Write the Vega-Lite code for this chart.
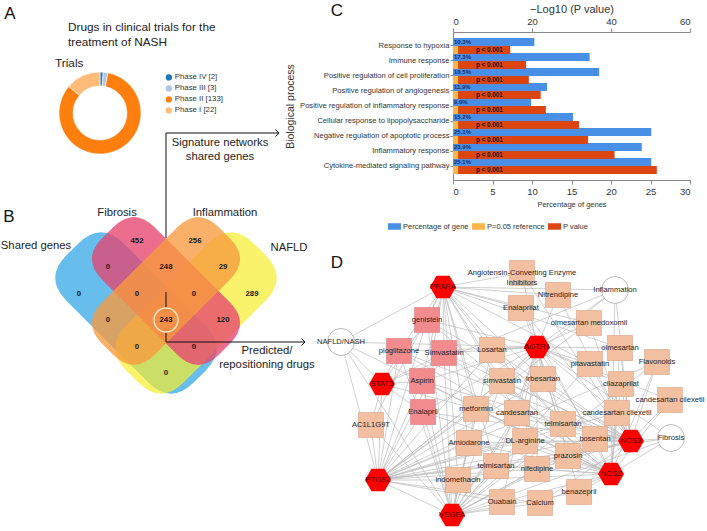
{
  "$schema": "https://vega.github.io/schema/vega-lite/v6.json",
  "width": 707,
  "height": 531,
  "autosize": {"type": "none"},
  "padding": 0,
  "background": "white",
  "config": {"view": {"stroke": null}, "font": "Liberation Sans"},
  "datasets": {
    "phases": [
      {"label": "Phase IV [2]", "n": 2, "ord": 1},
      {"label": "Phase III [3]", "n": 3, "ord": 2},
      {"label": "Phase II [133]", "n": 133, "ord": 3},
      {"label": "Phase I [22]", "n": 22, "ord": 4}
    ],
    "go": [
      {"process": "Response to hypoxia", "pct": 10.3, "pval": 14.5, "pct_label": "10.3%", "p_label": "p < 0.001"},
      {"process": "Immune response", "pct": 17.3, "pval": 18.5, "pct_label": "17.3%", "p_label": "p < 0.001"},
      {"process": "Positive regulation of cell proliferation", "pct": 18.5, "pval": 19.2, "pct_label": "18.5%", "p_label": "p < 0.001"},
      {"process": "Positive regulation of angiogenesis", "pct": 11.9, "pval": 22.2, "pct_label": "11.9%", "p_label": "p < 0.001"},
      {"process": "Positive regulation of inflammatory response", "pct": 9.9, "pval": 23.5, "pct_label": "9.9%", "p_label": "p < 0.001"},
      {"process": "Cellular response to lipopolysaccharide", "pct": 15.2, "pval": 31.9, "pct_label": "15.2%", "p_label": "p < 0.001"},
      {"process": "Negative regulation of apoptotic process", "pct": 25.1, "pval": 34.2, "pct_label": "25.1%", "p_label": "p < 0.001"},
      {"process": "Inflammatory response", "pct": 23.9, "pval": 40.9, "pct_label": "23.9%", "p_label": "p < 0.001"},
      {"process": "Cytokine-mediated signaling pathway", "pct": 25.1, "pval": 51.6, "pct_label": "25.1%", "p_label": "p < 0.001"}
    ],
    "venn_sets": [
      {"set": "Shared genes", "x": 136, "y": 313},
      {"set": "Fibrosis", "x": 166, "y": 291},
      {"set": "Inflammation", "x": 166, "y": 291},
      {"set": "NAFLD", "x": 196, "y": 313}
    ],
    "venn_counts": [
      {"t": "452", "x": 137, "y": 241}, {"t": "256", "x": 195, "y": 241},
      {"t": "0", "x": 108, "y": 267}, {"t": "248", "x": 166, "y": 267}, {"t": "29", "x": 223, "y": 267},
      {"t": "0", "x": 79, "y": 294}, {"t": "0", "x": 137, "y": 294}, {"t": "0", "x": 194, "y": 294}, {"t": "289", "x": 252, "y": 294},
      {"t": "0", "x": 108, "y": 320}, {"t": "243", "x": 166, "y": 320}, {"t": "120", "x": 223, "y": 320},
      {"t": "0", "x": 137, "y": 347}, {"t": "0", "x": 194, "y": 347},
      {"t": "0", "x": 166, "y": 373}
    ],
    "notes": [
      {"t": "A", "x": 10, "y": 14, "role": "letter"},
      {"t": "B", "x": 9, "y": 217, "role": "letter"},
      {"t": "C", "x": 337, "y": 11, "role": "letter"},
      {"t": "D", "x": 337, "y": 263, "role": "letter"},
      {"t": "Drugs in clinical trials for the", "x": 68, "y": 27, "role": "left"},
      {"t": "treatment of NASH", "x": 68, "y": 42, "role": "left"},
      {"t": "Trials", "x": 55, "y": 63, "role": "left"},
      {"t": "Fibrosis", "x": 117, "y": 213, "role": "center"},
      {"t": "Inflammation", "x": 225, "y": 213, "role": "center"},
      {"t": "Shared genes", "x": 36, "y": 246, "role": "center"},
      {"t": "NAFLD", "x": 289, "y": 248, "role": "center"},
      {"t": "Signature networks", "x": 220, "y": 143, "role": "center"},
      {"t": "shared genes", "x": 220, "y": 157, "role": "center"},
      {"t": "Predicted/", "x": 267, "y": 351, "role": "center"},
      {"t": "repositioning drugs", "x": 267, "y": 365, "role": "center"}
    ],
    "arrows": [
      {"x1": 166, "y1": 133, "x2": 166, "y2": 238, "level": "under", "head": false},
      {"x1": 166, "y1": 133, "x2": 279, "y2": 133, "level": "under", "head": true},
      {"x1": 166, "y1": 292, "x2": 166, "y2": 308, "level": "over", "head": false},
      {"x1": 166, "y1": 332, "x2": 166, "y2": 342, "level": "over", "head": false},
      {"x1": 166, "y1": 342, "x2": 305, "y2": 342, "level": "over", "head": true}
    ],
    "nodes": [
      {"id": "PPARA", "label": "PPARA", "type": "gene", "x": 443, "y": 287},
      {"id": "AGTR1", "label": "AGTR1", "type": "gene", "x": 537, "y": 347},
      {"id": "STAT3", "label": "STAT3", "type": "gene", "x": 382, "y": 384},
      {"id": "PTGS2", "label": "PTGS2", "type": "gene", "x": 378, "y": 480},
      {"id": "VEGFA", "label": "VEGFA", "type": "gene", "x": 452, "y": 515},
      {"id": "NOS3", "label": "NOS3", "type": "gene", "x": 631, "y": 441},
      {"id": "NOS2", "label": "NOS2", "type": "gene", "x": 611, "y": 474},
      {"id": "NAFLD/NASH", "label": "NAFLD/NASH", "type": "disease", "x": 341, "y": 342},
      {"id": "Inflammation", "label": "Inflammation", "type": "disease", "x": 615, "y": 290},
      {"id": "Fibrosis", "label": "Fibrosis", "type": "disease", "x": 671, "y": 438},
      {"id": "genistein", "label": "genistein", "type": "pink", "x": 427, "y": 320},
      {"id": "pioglitazone", "label": "pioglitazone", "type": "pink", "x": 399, "y": 351},
      {"id": "Simvastatin", "label": "Simvastatin", "type": "pink", "x": 444, "y": 353},
      {"id": "Aspirin", "label": "Aspirin", "type": "pink", "x": 422, "y": 381},
      {"id": "Enalapril", "label": "Enalapril", "type": "pink", "x": 423, "y": 412},
      {"id": "AC1L1G9T", "label": "AC1L1G9T", "type": "drug", "x": 371, "y": 425},
      {"id": "ACE", "label": "Angiotensin-Converting Enzyme\nInhibitors", "type": "drug", "x": 522, "y": 273},
      {"id": "Enalaprilat", "label": "Enalaprilat", "type": "drug", "x": 521, "y": 308},
      {"id": "Nitrendipine", "label": "Nitrendipine", "type": "drug", "x": 558, "y": 295},
      {"id": "olmesartan medoxomil", "label": "olmesartan medoxomil", "type": "drug", "x": 589, "y": 323},
      {"id": "Losartan", "label": "Losartan", "type": "drug", "x": 492, "y": 350},
      {"id": "olmesartan", "label": "olmesartan", "type": "drug", "x": 620, "y": 348},
      {"id": "Flavonoids", "label": "Flavonoids", "type": "drug", "x": 657, "y": 362},
      {"id": "pitavastatin", "label": "pitavastatin", "type": "drug", "x": 590, "y": 364},
      {"id": "simvastatin", "label": "simvastatin", "type": "drug", "x": 502, "y": 381},
      {"id": "irbesartan", "label": "irbesartan", "type": "drug", "x": 543, "y": 379},
      {"id": "cilazaprilat", "label": "cilazaprilat", "type": "drug", "x": 621, "y": 384},
      {"id": "cc1", "label": "candesartan cilexetil", "type": "drug", "x": 670, "y": 400},
      {"id": "metformin", "label": "metformin", "type": "drug", "x": 476, "y": 409},
      {"id": "candesartan", "label": "candesartan", "type": "drug", "x": 517, "y": 413},
      {"id": "cc2", "label": "candesartan cilexetil", "type": "drug", "x": 617, "y": 413},
      {"id": "tel1", "label": "telmisartan", "type": "drug", "x": 563, "y": 424},
      {"id": "Amiodarone", "label": "Amiodarone", "type": "drug", "x": 469, "y": 443},
      {"id": "DL-arginine", "label": "DL-arginine", "type": "drug", "x": 525, "y": 441},
      {"id": "bosentan", "label": "bosentan", "type": "drug", "x": 595, "y": 439},
      {"id": "prazosin", "label": "prazosin", "type": "drug", "x": 568, "y": 456},
      {"id": "tel2", "label": "telmisartan", "type": "drug", "x": 496, "y": 466},
      {"id": "nifedipine", "label": "nifedipine", "type": "drug", "x": 537, "y": 469},
      {"id": "indomethacin", "label": "indomethacin", "type": "drug", "x": 458, "y": 480},
      {"id": "benazepril", "label": "benazepril", "type": "drug", "x": 579, "y": 492},
      {"id": "Ouabain", "label": "Ouabain", "type": "drug", "x": 502, "y": 502},
      {"id": "Calcium", "label": "Calcium", "type": "drug", "x": 540, "y": 503}
    ],
    "targets": [
      {"src": "NAFLD/NASH", "tgts": ["PPARA", "AGTR1", "STAT3", "PTGS2", "VEGFA", "NOS2"]},
      {"src": "Inflammation", "tgts": ["PPARA", "AGTR1", "NOS3", "NOS2", "PTGS2", "STAT3"]},
      {"src": "Fibrosis", "tgts": ["NOS3", "NOS2", "AGTR1", "VEGFA", "PTGS2"]},
      {"src": "genistein", "tgts": ["PPARA", "AGTR1", "STAT3", "PTGS2", "VEGFA", "NOS3", "NOS2"]},
      {"src": "pioglitazone", "tgts": ["PPARA", "AGTR1", "STAT3", "PTGS2", "VEGFA", "NOS3", "NOS2"]},
      {"src": "Simvastatin", "tgts": ["PPARA", "AGTR1", "STAT3", "PTGS2", "VEGFA", "NOS3", "NOS2"]},
      {"src": "Aspirin", "tgts": ["PPARA", "AGTR1", "STAT3", "PTGS2", "VEGFA", "NOS3", "NOS2"]},
      {"src": "Enalapril", "tgts": ["PPARA", "AGTR1", "STAT3", "PTGS2", "VEGFA", "NOS3", "NOS2"]},
      {"src": "AC1L1G9T", "tgts": ["STAT3", "PTGS2", "PPARA", "VEGFA"]},
      {"src": "ACE", "tgts": ["AGTR1", "PPARA", "NOS3"]},
      {"src": "Enalaprilat", "tgts": ["AGTR1", "PPARA", "NOS3", "NOS2"]},
      {"src": "Nitrendipine", "tgts": ["AGTR1", "PPARA", "NOS3"]},
      {"src": "olmesartan medoxomil", "tgts": ["AGTR1", "PPARA", "NOS3", "PTGS2"]},
      {"src": "Losartan", "tgts": ["AGTR1", "PPARA", "PTGS2", "VEGFA", "NOS3", "NOS2"]},
      {"src": "olmesartan", "tgts": ["AGTR1", "PPARA", "NOS3", "NOS2"]},
      {"src": "Flavonoids", "tgts": ["NOS3", "NOS2", "PTGS2", "VEGFA"]},
      {"src": "pitavastatin", "tgts": ["AGTR1", "PPARA", "NOS3", "VEGFA"]},
      {"src": "simvastatin", "tgts": ["AGTR1", "PPARA", "NOS3", "NOS2", "PTGS2", "VEGFA"]},
      {"src": "irbesartan", "tgts": ["AGTR1", "PPARA", "NOS3", "PTGS2", "VEGFA"]},
      {"src": "cilazaprilat", "tgts": ["AGTR1", "NOS3", "NOS2"]},
      {"src": "cc1", "tgts": ["AGTR1", "NOS3", "NOS2"]},
      {"src": "metformin", "tgts": ["PPARA", "AGTR1", "STAT3", "PTGS2", "VEGFA", "NOS3", "NOS2"]},
      {"src": "candesartan", "tgts": ["AGTR1", "PPARA", "NOS3", "PTGS2", "VEGFA"]},
      {"src": "cc2", "tgts": ["AGTR1", "NOS3", "NOS2", "PTGS2"]},
      {"src": "tel1", "tgts": ["AGTR1", "PPARA", "NOS3", "PTGS2", "VEGFA"]},
      {"src": "Amiodarone", "tgts": ["PPARA", "PTGS2", "VEGFA", "NOS3", "NOS2"]},
      {"src": "DL-arginine", "tgts": ["NOS3", "NOS2", "AGTR1", "PTGS2", "VEGFA"]},
      {"src": "bosentan", "tgts": ["AGTR1", "NOS3", "NOS2", "PTGS2", "VEGFA"]},
      {"src": "prazosin", "tgts": ["AGTR1", "NOS3", "NOS2", "PTGS2", "VEGFA"]},
      {"src": "tel2", "tgts": ["AGTR1", "PPARA", "PTGS2", "VEGFA", "NOS2"]},
      {"src": "nifedipine", "tgts": ["AGTR1", "NOS3", "NOS2", "PTGS2", "VEGFA"]},
      {"src": "indomethacin", "tgts": ["PTGS2", "VEGFA", "PPARA", "NOS2", "NOS3"]},
      {"src": "benazepril", "tgts": ["AGTR1", "NOS3", "NOS2", "VEGFA"]},
      {"src": "Ouabain", "tgts": ["PTGS2", "VEGFA", "NOS2", "AGTR1"]},
      {"src": "Calcium", "tgts": ["PTGS2", "VEGFA", "NOS3", "NOS2"]},
      {"src": "PTGS2", "tgts": ["VEGFA", "STAT3"]}
    ]
  },
  "layer": [
    {
      "layer": [
        {
          "data": {"name": "phases"},
          "mark": {"type": "arc", "innerRadius": 27, "outerRadius": 41, "stroke": "white", "strokeWidth": 0.6},
          "encoding": {
            "x": {"datum": 100, "type": "quantitative", "scale": {"domain": [0, 707], "range": [0, 707], "nice": false, "zero": false}, "axis": null},
            "y": {"datum": 113, "type": "quantitative", "scale": {"domain": [0, 531], "range": [0, 531], "nice": false, "zero": false}, "axis": null},
            "theta": {"field": "n", "type": "quantitative", "stack": true},
            "order": {"field": "ord", "type": "quantitative"},
            "color": {
              "field": "label", "type": "nominal", "sort": null,
              "scale": {"domain": ["Phase IV [2]", "Phase III [3]", "Phase II [133]", "Phase I [22]"], "range": ["#1f77b4", "#aec7e8", "#ff7f0e", "#ffbb78"]},
              "legend": {"orient": "none", "legendX": 165, "legendY": 73.5, "title": null, "symbolType": "circle", "symbolSize": 40, "symbolStrokeWidth": 0, "labelFontSize": 7.8, "labelColor": "#333", "rowPadding": 2, "labelOffset": 2}
            }
          }
        },
        {
          "data": {"name": "arrows"},
          "transform": [{"filter": "datum.level == 'under'"}],
          "mark": {"type": "rule", "color": "#111", "strokeWidth": 1},
          "encoding": {
            "x": {"field": "x1", "type": "quantitative", "scale": {"domain": [0, 707], "range": [0, 707], "nice": false, "zero": false}, "axis": null},
            "y": {"field": "y1", "type": "quantitative", "scale": {"domain": [0, 531], "range": [0, 531], "nice": false, "zero": false}, "axis": null},
            "x2": {"field": "x2"}, "y2": {"field": "y2"}
          }
        },
        {
          "data": {"name": "venn_sets"},
          "transform": [{"filter": "datum.set == 'Shared genes'"}],
          "mark": {"type": "point", "filled": true, "shape": "M -0.64 -0.45 L 0.64 -0.45 Q 1 -0.45 1 -0.09 L 1 0.09 Q 1 0.45 0.64 0.45 L -0.64 0.45 Q -1 0.45 -1 0.09 L -1 -0.09 Q -1 -0.45 -0.64 -0.45 Z", "size": 32400, "angle": 45, "color": "#41ace6", "opacity": 0.8},
          "encoding": {
            "x": {"field": "x", "type": "quantitative", "scale": {"domain": [0, 707], "range": [0, 707], "nice": false, "zero": false}, "axis": null},
            "y": {"field": "y", "type": "quantitative", "scale": {"domain": [0, 531], "range": [0, 531], "nice": false, "zero": false}, "axis": null}
          }
        },
        {
          "data": {"name": "venn_sets"},
          "transform": [{"filter": "datum.set == 'NAFLD'"}],
          "mark": {"type": "point", "filled": true, "shape": "M -0.64 -0.45 L 0.64 -0.45 Q 1 -0.45 1 -0.09 L 1 0.09 Q 1 0.45 0.64 0.45 L -0.64 0.45 Q -1 0.45 -1 0.09 L -1 -0.09 Q -1 -0.45 -0.64 -0.45 Z", "size": 32400, "angle": -45, "color": "#f6ee2e", "opacity": 0.7},
          "encoding": {
            "x": {"field": "x", "type": "quantitative", "scale": {"domain": [0, 707], "range": [0, 707], "nice": false, "zero": false}, "axis": null},
            "y": {"field": "y", "type": "quantitative", "scale": {"domain": [0, 531], "range": [0, 531], "nice": false, "zero": false}, "axis": null}
          }
        },
        {
          "data": {"name": "venn_sets"},
          "transform": [{"filter": "datum.set == 'Fibrosis'"}],
          "mark": {"type": "point", "filled": true, "shape": "M -0.64 -0.45 L 0.64 -0.45 Q 1 -0.45 1 -0.09 L 1 0.09 Q 1 0.45 0.64 0.45 L -0.64 0.45 Q -1 0.45 -1 0.09 L -1 -0.09 Q -1 -0.45 -0.64 -0.45 Z", "size": 27225, "angle": 45, "color": "#e6456f", "opacity": 0.78},
          "encoding": {
            "x": {"field": "x", "type": "quantitative", "scale": {"domain": [0, 707], "range": [0, 707], "nice": false, "zero": false}, "axis": null},
            "y": {"field": "y", "type": "quantitative", "scale": {"domain": [0, 531], "range": [0, 531], "nice": false, "zero": false}, "axis": null}
          }
        },
        {
          "data": {"name": "venn_sets"},
          "transform": [{"filter": "datum.set == 'Inflammation'"}],
          "mark": {"type": "point", "filled": true, "shape": "M -0.64 -0.45 L 0.64 -0.45 Q 1 -0.45 1 -0.09 L 1 0.09 Q 1 0.45 0.64 0.45 L -0.64 0.45 Q -1 0.45 -1 0.09 L -1 -0.09 Q -1 -0.45 -0.64 -0.45 Z", "size": 27225, "angle": -45, "color": "#f79a3e", "opacity": 0.78},
          "encoding": {
            "x": {"field": "x", "type": "quantitative", "scale": {"domain": [0, 707], "range": [0, 707], "nice": false, "zero": false}, "axis": null},
            "y": {"field": "y", "type": "quantitative", "scale": {"domain": [0, 531], "range": [0, 531], "nice": false, "zero": false}, "axis": null}
          }
        },
        {
          "data": {"name": "arrows"},
          "transform": [{"filter": "datum.level == 'over'"}],
          "mark": {"type": "rule", "color": "#111", "strokeWidth": 1},
          "encoding": {
            "x": {"field": "x1", "type": "quantitative", "scale": {"domain": [0, 707], "range": [0, 707], "nice": false, "zero": false}, "axis": null},
            "y": {"field": "y1", "type": "quantitative", "scale": {"domain": [0, 531], "range": [0, 531], "nice": false, "zero": false}, "axis": null},
            "x2": {"field": "x2"}, "y2": {"field": "y2"}
          }
        },
        {
          "data": {"name": "arrows"},
          "transform": [{"filter": "datum.head"}],
          "mark": {"type": "point", "filled": false, "shape": "M -1 -1 L 0 0 L -1 1", "size": 49, "stroke": "#111", "strokeWidth": 1, "opacity": 1},
          "encoding": {
            "x": {"field": "x2", "type": "quantitative", "scale": {"domain": [0, 707], "range": [0, 707], "nice": false, "zero": false}, "axis": null},
            "y": {"field": "y2", "type": "quantitative", "scale": {"domain": [0, 531], "range": [0, 531], "nice": false, "zero": false}, "axis": null}
          }
        },
        {
          "data": {"name": "venn_counts"},
          "transform": [{"filter": "datum.t == '243'"}],
          "mark": {"type": "point", "filled": false, "shape": "circle", "size": 576, "stroke": "#fbe2bd", "strokeWidth": 1.6, "opacity": 1},
          "encoding": {
            "x": {"field": "x", "type": "quantitative", "scale": {"domain": [0, 707], "range": [0, 707], "nice": false, "zero": false}, "axis": null},
            "y": {"field": "y", "type": "quantitative", "scale": {"domain": [0, 531], "range": [0, 531], "nice": false, "zero": false}, "axis": null}
          }
        },
        {
          "data": {"name": "venn_counts"},
          "mark": {"type": "text", "fontSize": 7.8, "fontWeight": "bold", "fill": "#1a1a1a", "align": "center", "baseline": "middle"},
          "encoding": {
            "x": {"field": "x", "type": "quantitative", "scale": {"domain": [0, 707], "range": [0, 707], "nice": false, "zero": false}, "axis": null},
            "y": {"field": "y", "type": "quantitative", "scale": {"domain": [0, 531], "range": [0, 531], "nice": false, "zero": false}, "axis": null},
            "text": {"field": "t"}
          }
        },
        {
          "data": {"name": "targets"},
          "transform": [
            {"flatten": ["tgts"]},
            {"lookup": "src", "from": {"data": {"name": "nodes"}, "key": "id", "fields": ["x", "y"]}, "as": ["sx", "sy"]},
            {"lookup": "tgts", "from": {"data": {"name": "nodes"}, "key": "id", "fields": ["x", "y"]}, "as": ["tx", "ty"]}
          ],
          "mark": {"type": "rule", "color": "#bbbbbb", "strokeWidth": 0.7},
          "encoding": {
            "x": {"field": "sx", "type": "quantitative", "scale": {"domain": [0, 707], "range": [0, 707], "nice": false, "zero": false}, "axis": null},
            "y": {"field": "sy", "type": "quantitative", "scale": {"domain": [0, 531], "range": [0, 531], "nice": false, "zero": false}, "axis": null},
            "x2": {"field": "tx"}, "y2": {"field": "ty"}
          }
        },
        {
          "data": {"name": "nodes"},
          "transform": [{"filter": "datum.type == 'drug'"}],
          "mark": {"type": "point", "filled": true, "shape": "square", "size": 625, "color": "#f3bfa1", "stroke": "#d6a387", "strokeWidth": 0.6, "opacity": 1},
          "encoding": {
            "x": {"field": "x", "type": "quantitative", "scale": {"domain": [0, 707], "range": [0, 707], "nice": false, "zero": false}, "axis": null},
            "y": {"field": "y", "type": "quantitative", "scale": {"domain": [0, 531], "range": [0, 531], "nice": false, "zero": false}, "axis": null}
          }
        },
        {
          "data": {"name": "nodes"},
          "transform": [{"filter": "datum.type == 'pink'"}],
          "mark": {"type": "point", "filled": true, "shape": "square", "size": 625, "color": "#f28b8e", "stroke": "#d87a7d", "strokeWidth": 0.6, "opacity": 1},
          "encoding": {
            "x": {"field": "x", "type": "quantitative", "scale": {"domain": [0, 707], "range": [0, 707], "nice": false, "zero": false}, "axis": null},
            "y": {"field": "y", "type": "quantitative", "scale": {"domain": [0, 531], "range": [0, 531], "nice": false, "zero": false}, "axis": null}
          }
        },
        {
          "data": {"name": "nodes"},
          "transform": [{"filter": "datum.type == 'gene'"}],
          "mark": {"type": "point", "filled": true, "shape": "M -1 0 L -0.5 -0.866 L 0.5 -0.866 L 1 0 L 0.5 0.866 L -0.5 0.866 Z", "size": 676, "color": "#ff0000", "opacity": 1},
          "encoding": {
            "x": {"field": "x", "type": "quantitative", "scale": {"domain": [0, 707], "range": [0, 707], "nice": false, "zero": false}, "axis": null},
            "y": {"field": "y", "type": "quantitative", "scale": {"domain": [0, 531], "range": [0, 531], "nice": false, "zero": false}, "axis": null}
          }
        },
        {
          "data": {"name": "nodes"},
          "transform": [{"filter": "datum.type == 'disease'"}],
          "mark": {"type": "point", "filled": true, "shape": "circle", "size": 729, "fill": "white", "stroke": "#a8a8a8", "strokeWidth": 0.8, "opacity": 1},
          "encoding": {
            "x": {"field": "x", "type": "quantitative", "scale": {"domain": [0, 707], "range": [0, 707], "nice": false, "zero": false}, "axis": null},
            "y": {"field": "y", "type": "quantitative", "scale": {"domain": [0, 531], "range": [0, 531], "nice": false, "zero": false}, "axis": null}
          }
        },
        {
          "data": {"name": "nodes"},
          "transform": [{"filter": "datum.type != 'gene'"}],
          "mark": {"type": "text", "fontSize": 7.6, "fill": "#1e1e1e", "align": "center", "baseline": "middle", "lineBreak": "\n", "lineHeight": 9.5},
          "encoding": {
            "x": {"field": "x", "type": "quantitative", "scale": {"domain": [0, 707], "range": [0, 707], "nice": false, "zero": false}, "axis": null},
            "y": {"field": "y", "type": "quantitative", "scale": {"domain": [0, 531], "range": [0, 531], "nice": false, "zero": false}, "axis": null},
            "text": {"field": "label"}
          }
        },
        {
          "data": {"name": "nodes"},
          "transform": [{"filter": "datum.type == 'gene'"}],
          "mark": {"type": "text", "fontSize": 7.8, "fill": "#4a0000", "align": "center", "baseline": "middle"},
          "encoding": {
            "x": {"field": "x", "type": "quantitative", "scale": {"domain": [0, 707], "range": [0, 707], "nice": false, "zero": false}, "axis": null},
            "y": {"field": "y", "type": "quantitative", "scale": {"domain": [0, 531], "range": [0, 531], "nice": false, "zero": false}, "axis": null},
            "text": {"field": "label"}
          }
        },
        {
          "data": {"name": "notes"},
          "transform": [{"filter": "datum.role == 'letter'"}],
          "mark": {"type": "text", "fontSize": 17, "fill": "#111", "align": "center", "baseline": "middle"},
          "encoding": {
            "x": {"field": "x", "type": "quantitative", "scale": {"domain": [0, 707], "range": [0, 707], "nice": false, "zero": false}, "axis": null},
            "y": {"field": "y", "type": "quantitative", "scale": {"domain": [0, 531], "range": [0, 531], "nice": false, "zero": false}, "axis": null},
            "text": {"field": "t"}
          }
        },
        {
          "data": {"name": "notes"},
          "transform": [{"filter": "datum.role == 'left'"}],
          "mark": {"type": "text", "fontSize": 11.8, "fill": "#222", "align": "left", "baseline": "middle"},
          "encoding": {
            "x": {"field": "x", "type": "quantitative", "scale": {"domain": [0, 707], "range": [0, 707], "nice": false, "zero": false}, "axis": null},
            "y": {"field": "y", "type": "quantitative", "scale": {"domain": [0, 531], "range": [0, 531], "nice": false, "zero": false}, "axis": null},
            "text": {"field": "t"}
          }
        },
        {
          "data": {"name": "notes"},
          "transform": [{"filter": "datum.role == 'center'"}],
          "mark": {"type": "text", "fontSize": 11.3, "fill": "#222", "align": "center", "baseline": "middle"},
          "encoding": {
            "x": {"field": "x", "type": "quantitative", "scale": {"domain": [0, 707], "range": [0, 707], "nice": false, "zero": false}, "axis": null},
            "y": {"field": "y", "type": "quantitative", "scale": {"domain": [0, 531], "range": [0, 531], "nice": false, "zero": false}, "axis": null},
            "text": {"field": "t"}
          }
        }
      ]
    },
    {
      "data": {"name": "go"},
      "layer": [
        {
          "mark": {"type": "bar", "height": 8, "yOffset": -4},
          "encoding": {
            "y": {
              "field": "process", "type": "nominal", "sort": null,
              "scale": {"range": [32, 180], "paddingInner": 0, "paddingOuter": 0.433},
              "axis": {"orient": "left", "offset": -453, "title": "Biological process", "titleFontSize": 10.5, "titleFontWeight": "normal", "titleColor": "#333", "titlePadding": 4, "labelFontSize": 7.6, "labelColor": "#333", "labelPadding": 1, "labelLimit": 300, "tickSize": 3, "tickColor": "#888", "domainColor": "#888"}
            },
            "x": {
              "field": "pct", "type": "quantitative",
              "scale": {"domain": [0, 30], "range": [453, 690], "nice": false},
              "axis": {"orient": "bottom", "offset": -351, "values": [0, 5, 10, 15, 20, 25, 30], "grid": false, "title": "Percentage of genes", "titleFontSize": 7.5, "titleFontWeight": "normal", "titleColor": "#333", "titlePadding": 5, "labelFontSize": 9.5, "labelColor": "#333", "tickSize": 4, "tickColor": "#888", "domainColor": "#888", "labelPadding": 2}
            },
            "color": {
              "datum": "Percentage of gene",
              "scale": {"domain": ["Percentage of gene", "P=0.05 reference", "P value"], "range": ["#4a8fe6", "#fdb44b", "#dc4410"]},
              "legend": {"orient": "none", "legendX": 388, "legendY": 220, "direction": "horizontal", "title": null, "symbolType": "M -1 -0.5 L 1 -0.5 L 1 0.5 L -1 0.5 Z", "symbolSize": 169, "symbolStrokeWidth": 0, "labelFontSize": 7.5, "labelColor": "#333", "labelOffset": 2, "columnPadding": 3}
            }
          }
        },
        {
          "mark": {"type": "bar", "height": 8, "yOffset": 4},
          "encoding": {
            "y": {"field": "process", "type": "nominal", "sort": null},
            "x": {
              "field": "pval", "type": "quantitative",
              "scale": {"domain": [0, 60], "range": [453, 690], "nice": false},
              "axis": {"orient": "top", "offset": -32, "values": [0, 20, 40, 60], "grid": false, "title": "−Log10 (P value)", "titleFontSize": 11, "titleFontWeight": "normal", "titleColor": "#333", "titlePadding": 2, "labelFontSize": 9.5, "labelColor": "#333", "tickSize": 4, "tickColor": "#888", "domainColor": "#888", "labelPadding": 2}
            },
            "color": {"datum": "P value"}
          }
        },
        {
          "mark": {"type": "bar", "height": 8, "yOffset": 4},
          "encoding": {
            "y": {"field": "process", "type": "nominal", "sort": null},
            "x": {"datum": 0, "type": "quantitative", "scale": {"domain": [0, 60], "range": [453, 690], "nice": false}, "axis": null},
            "x2": {"datum": 1.301},
            "color": {"datum": "P=0.05 reference"}
          }
        },
        {
          "mark": {"type": "text", "align": "left", "baseline": "middle", "dx": 1, "dy": -3.8, "fontSize": 6, "fontWeight": "bold", "fill": "#15306a"},
          "encoding": {
            "y": {"field": "process", "type": "nominal", "sort": null},
            "x": {"datum": 0, "type": "quantitative", "scale": {"domain": [0, 30], "range": [453, 690], "nice": false}, "axis": null},
            "text": {"field": "pct_label"}
          }
        },
        {
          "mark": {"type": "text", "align": "left", "baseline": "middle", "dx": 23, "dy": 4, "fontSize": 6.3, "fontWeight": "bold", "fill": "#1a1a1a"},
          "encoding": {
            "y": {"field": "process", "type": "nominal", "sort": null},
            "x": {"datum": 0, "type": "quantitative", "scale": {"domain": [0, 60], "range": [453, 690], "nice": false}, "axis": null},
            "text": {"field": "p_label"}
          }
        }
      ],
      "resolve": {"scale": {"x": "independent"}}
    }
  ],
  "resolve": {"scale": {"x": "independent", "y": "independent", "color": "independent"}}
}
